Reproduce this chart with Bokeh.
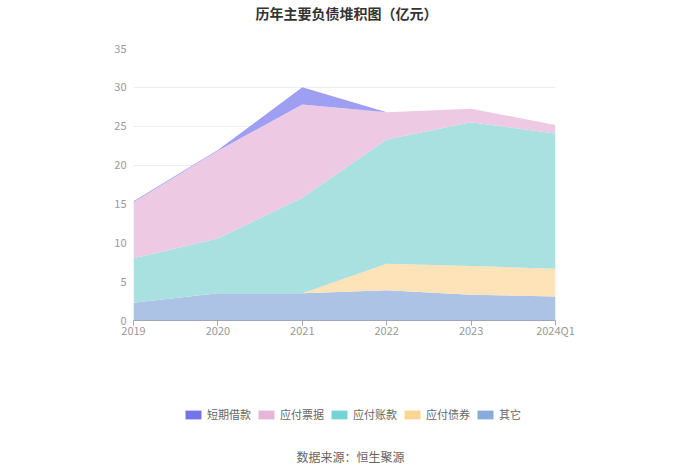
from bokeh.plotting import figure
from bokeh.layouts import column
from bokeh.models import (ColumnDataSource, FixedTicker, Legend, LegendItem, Label, Range1d)
from bokeh.embed import file_html
from bokeh.resources import INLINE

categories = ["2019", "2020", "2021", "2022", "2023", "2024Q1"]
short_loans = [0.15, 0.1, 2.2, 0.0, 0.0, 0.0]
notes_payable = [7.2, 11.3, 12.0, 3.5, 1.75, 1.1]
accounts_payable = [5.7, 7.05, 12.3, 16.0, 18.5, 17.4]
bonds_payable = [0.0, 0.0, 0.0, 3.4, 3.7, 3.55]
other = [2.3, 3.5, 3.5, 3.9, 3.3, 3.1]

series_names = ["短期借款", "应付票据", "应付账款", "应付债券", "其它"]
legend_colors = ["#7373ea", "#e6b5da", "#74d3d3", "#fdd593", "#8cabdd"]
area_colors = ["#9e9ff3", "#edc9e3", "#a9e1e1", "#fde3b7", "#adc3e6"]

FONT = "Noto Sans CJK SC"
W = 700
LEFT = 133  # frame left edge (frames of the column are aligned)

src = ColumnDataSource(dict(
    x=list(range(len(categories))),
    s0=other, s1=bonds_payable, s2=accounts_payable, s3=notes_payable, s4=short_loans,
))
stackers = ["s0", "s1", "s2", "s3", "s4"]

# ---------- top: title ----------
top = figure(width=W, height=24, output_backend="svg", toolbar_location=None,
             x_axis_location=None, y_axis_location=None, min_border=0,
             x_range=Range1d(0, 1), y_range=Range1d(0, 1))
top.outline_line_color = None
top.grid.visible = False
top.add_layout(Label(x=346 - LEFT, y=12, x_units="screen", y_units="screen",
                     text="历年主要负债堆积图（亿元）",
                     text_font=FONT, text_font_size="14px", text_font_style="bold",
                     text_color="#333333", text_align="center", text_baseline="middle"))

# ---------- main chart ----------
p = figure(width=W, height=336, output_backend="svg", toolbar_location=None,
           min_border_left=LEFT, min_border_right=145, min_border_top=24, min_border_bottom=40,
           x_range=Range1d(0, len(categories) - 1), y_range=Range1d(0, 35))
p.outline_line_color = None
p.varea_stack(stackers=stackers, x="x", color=area_colors[::-1], source=src)

p.xaxis.ticker = FixedTicker(ticks=list(range(len(categories))))
p.xaxis.major_label_overrides = {i: c for i, c in enumerate(categories)}
p.xaxis.axis_line_color = "#a0a6b5"
p.xaxis.major_tick_line_color = "#a0a6b5"
p.xaxis.major_tick_in = 0
p.xaxis.major_tick_out = 5
p.xaxis.minor_tick_line_color = None
p.xaxis.major_label_text_color = "#999999"
p.xaxis.major_label_text_font = FONT
p.xaxis.major_label_text_font_size = "11px"
p.xaxis.major_label_standoff = -4

p.yaxis.ticker = FixedTicker(ticks=[0, 5, 10, 15, 20, 25, 30, 35])
p.yaxis.axis_line_color = None
p.yaxis.major_tick_line_color = None
p.yaxis.minor_tick_line_color = None
p.yaxis.major_label_text_color = "#999999"
p.yaxis.major_label_text_font = FONT
p.yaxis.major_label_text_font_size = "11px"
p.yaxis.major_label_standoff = 1

p.xgrid.grid_line_color = None
p.ygrid.grid_line_color = "#eeeeee"
p.ygrid.ticker = FixedTicker(ticks=[5, 10, 15, 20, 25, 30, 35])

# ---------- bottom: legend + source ----------
bot = figure(width=W, height=113, output_backend="svg", toolbar_location=None,
             x_axis_location=None, y_axis_location=None, min_border=0,
             x_range=Range1d(-20, -19), y_range=Range1d(0, 1))
bot.outline_line_color = None
bot.grid.visible = False
leg_renderers = bot.varea_stack(stackers=stackers, x="x", color=legend_colors[::-1], source=src)
items = [LegendItem(label=name, renderers=[r])
         for name, r in zip(series_names, leg_renderers[::-1])]
legend = Legend(items=items, orientation="horizontal", location=(183 - LEFT, 51),
                glyph_width=20, glyph_height=11, label_height=12, label_standoff=4,
                spacing=5, padding=0, margin=0,
                label_text_font=FONT, label_text_font_size="11px", label_text_color="#666666",
                border_line_color=None, background_fill_alpha=0)
bot.add_layout(legend, "center")
bot.add_layout(Label(x=350 - LEFT, y=17, x_units="screen", y_units="screen",
                     text="数据来源：恒生聚源",
                     text_font=FONT, text_font_size="12px", text_color="#666666",
                     text_align="center", text_baseline="middle"))

layout = column(top, p, bot, spacing=0)
open("out.html", "w").write(file_html(layout, INLINE))
